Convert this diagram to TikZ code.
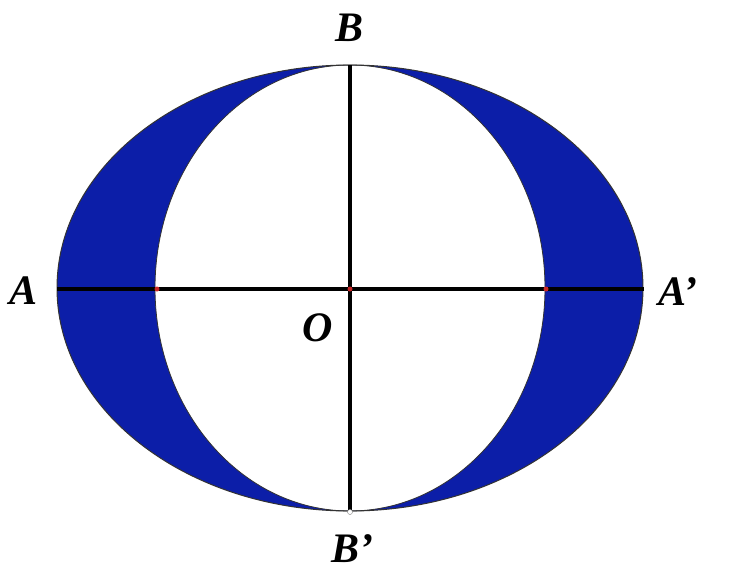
\documentclass[tikz,border=0pt]{standalone}
\usepackage{fontspec}
\setmainfont{Liberation Serif}
\usepackage{xcolor}
\usepackage{tikz}
\usetikzlibrary{positioning}
\definecolor{lunefill}{RGB}{12, 30, 168}
\definecolor{dotred}{RGB}{200, 40, 40}

\begin{document}
\begin{tikzpicture}[
  x=1pt, y=-1pt,
  lbl/.style={font=\fontsize{42}{42}\selectfont\bfseries\itshape, inner sep=0pt},
  axis/.style={draw=black, line width=3.8pt},
  dot/.style={circle, fill=dotred, inner sep=0pt, minimum size=5pt}
]
\useasboundingbox (0,0) rectangle (729,584);

% ellipse and inner circle
\fill[lunefill, even odd rule] (350,288) ellipse [x radius=293, y radius=223]
                                (350,288) ellipse [x radius=195, y radius=223];
\draw[black!80, line width=1pt] (350,288) ellipse [x radius=293, y radius=223];
\draw[black!80, line width=0.8pt] (350,288) ellipse [x radius=195, y radius=223];

\coordinate (A)  at (57,289);
\coordinate (A1) at (644,289);
\coordinate (B)  at (350,65);
\coordinate (B1) at (350,512);
\coordinate (O)  at (350,289);

\draw[axis] (A) -- (A1);
\draw[axis, line width=3.2pt] (B) -- (B1);

\node[dot] (p1) at (157,289) {};
\node[dot] (p2) at (O) {};
\node[dot] (p3) at (546,289) {};
\node[circle, fill=white, draw=gray, inner sep=0pt, minimum size=5pt] (q1) at (B1) {};

\node[lbl] (lA)  at (24,291)  {A};
\node[lbl] (lA1) at (678,292) {A\textquoteright};
\node[lbl] (lB)  at (350,28)  {B};
\node[lbl] (lB1) at (352,549) {B\textquoteright};
\node[lbl] (lO)  at (318,328) {O};
\end{tikzpicture}
\end{document}
